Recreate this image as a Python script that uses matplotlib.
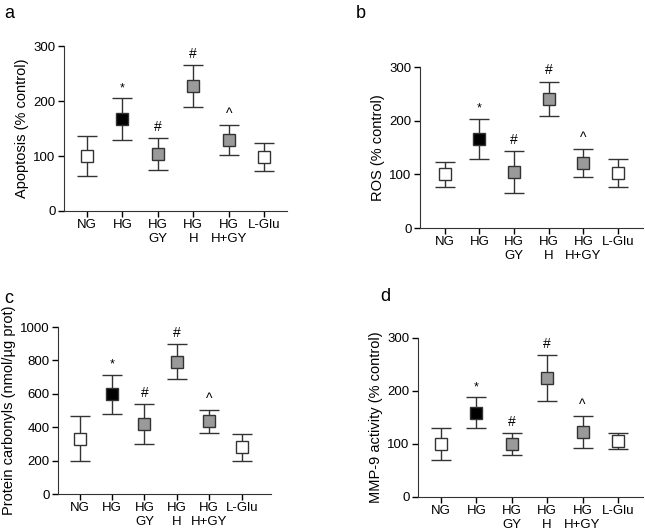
import matplotlib.pyplot as plt

plt.rcParams['font.family'] = ['Liberation Sans', 'DejaVu Sans']

groups = ["NG", "HG", "HG\nGY", "HG\nH", "HG\nH+GY", "L-Glu"]
fills = ["white", "black", "#9a9a9a", "#9a9a9a", "#9a9a9a", "white"]
marks = ["", "*", "#", "#", "^", ""]

# panel values (mean, error)
apop_mean = [100, 167, 103, 228, 129, 98]
apop_err = [36, 38, 29, 38, 28, 26]
ros_mean = [100, 166, 104, 241, 121, 103]
ros_err = [23, 38, 39, 32, 26, 26]
carb_mean = [331, 597, 421, 792, 435, 279]
carb_err = [134, 117, 119, 104, 69, 81]
mmp_mean = [100, 159, 100, 224, 122, 105]
mmp_err = [30, 29, 21, 43, 30, 15]

panels = [
    # letter, mean, err, ylabel, ymax, yticks, axes rect, xlim, letter pos
    ("a", apop_mean, apop_err, "Apoptosis (% control)", 300, [0, 100, 200, 300],
     [0.0992, 0.6034, 0.346, 0.310], (-0.65, 5.65), (0.006, 0.99)),
    ("b", ros_mean, ros_err, "ROS (% control)", 300, [0, 100, 200, 300],
     [0.651, 0.5714, 0.346, 0.3026], (-0.72, 5.72), (0.552, 0.99)),
    ("c", carb_mean, carb_err, "Protein carbonyls (nmol/\u00b5g prot)", 1000,
     [0, 200, 400, 600, 800, 1000],
     [0.0899, 0.0714, 0.330, 0.3139], (-0.67, 5.9), (0.006, 0.455)),
    ("d", mmp_mean, mmp_err, "MMP-9 activity (% control)", 300, [0, 100, 200, 300],
     [0.648, 0.066, 0.349, 0.2990], (-0.65, 5.71), (0.589, 0.458)),
]

fig = plt.figure(figsize=(6.45, 5.32), dpi=100)

for letter, mean, err, ylab, ymax, yt, rect, xl, lpos in panels:
    ax = fig.add_axes(rect)
    x = list(range(len(groups)))
    ax.errorbar(x, mean, yerr=err, fmt='none', ecolor='#333333',
                elinewidth=1.0, capsize=7, capthick=1.0, zorder=2)
    for i in x:
        ax.plot(i, mean[i], marker='s', markersize=8.8, markerfacecolor=fills[i],
                markeredgecolor='#333333', markeredgewidth=1.0, zorder=3)
        if marks[i]:
            ax.annotate(marks[i], (i, mean[i] + err[i]), xytext=(0, 3),
                        textcoords='offset points', ha='center', va='bottom',
                        fontsize=10 if marks[i] != "*" else 9)
    ax.set_xlim(*xl)
    ax.set_ylim(0, ymax)
    ax.set_yticks(yt)
    ax.set_xticks(x)
    ax.set_xticklabels(groups, fontsize=9.5, linespacing=1.2)
    ax.tick_params(axis='y', labelsize=9.5, length=4, width=1, pad=2)
    ax.tick_params(axis='x', length=4, width=1, pad=2)
    ax.spines['top'].set_visible(False)
    ax.spines['right'].set_visible(False)
    ax.spines['left'].set_color('#333333')
    ax.spines['bottom'].set_color('#333333')
    ax.set_ylabel(ylab, fontsize=10.5, labelpad=3)
    fig.text(lpos[0], lpos[1], letter, fontsize=13, va='top', ha='left')

fig.savefig("out.png", dpi=100)
